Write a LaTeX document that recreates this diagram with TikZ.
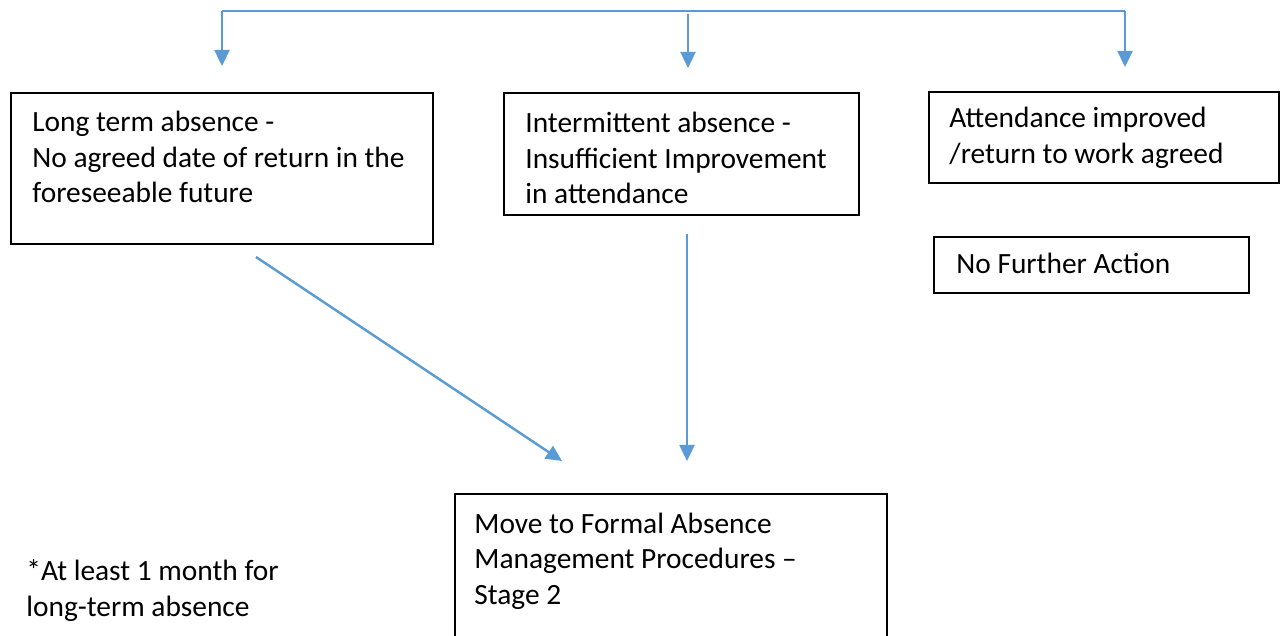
\documentclass[tikz,border=0pt]{standalone}
\usepackage{fontspec}
\setmainfont{Carlito}
\usetikzlibrary{arrows.meta}
\definecolor{flowblue}{HTML}{5B9BD5}
\tikzset{
  stagebox/.style={draw=black, line width=0.8pt, anchor=north west, inner sep=0pt},
  stagetext/.style={anchor=base west, align=left, inner sep=0pt, font=\fontsize{14.7pt}{17.75pt}\selectfont},
  flow/.style={draw=flowblue, line width=1.2pt, -{Triangle[length=8pt,width=7.5pt]}}
}
\begin{document}
\begin{tikzpicture}[x=0.5pt,y=-0.5pt]
\clip (0,0) rectangle (1282,636);
% boxes
\node[stagebox, minimum width=211pt, minimum height=75.5pt] (longterm) at (10,92) {};
\node[stagebox, minimum width=177.5pt, minimum height=61pt] (intermit) at (503,92) {};
\node[stagebox, minimum width=175pt, minimum height=45.5pt] (improved) at (928,91) {};
\node[stagebox, minimum width=157.5pt, minimum height=28pt] (noaction) at (933,236) {};
\node[stagebox, minimum width=216pt, minimum height=93.5pt] (formal) at (454,493) {};
% texts (placed at the baseline of the last line)
\node[stagetext] (longtermT) at (32,203) {Long term absence -\\No agreed date of return in the\\foreseeable future};
\node[stagetext] (intermitT) at (525,204) {Intermittent absence -\\Insufficient Improvement\\in attendance};
\node[stagetext] (improvedT) at (949,163.5) {Attendance improved\\/return to work agreed};
\node[stagetext] (noactionT) at (956,274) {No Further Action};
\node[stagetext] (formalT) at (474,604) {Move to Formal Absence\\Management Procedures --\\Stage 2};
\node[stagetext] (noteT) at (26,616.5) {*At least 1 month for\\long-term absence};
% connectors
\coordinate (topL) at (222,11);
\coordinate (topR) at (1125,11);
\coordinate (topM) at (688,14);
\coordinate (tipL) at (222,66);
\coordinate (tipM) at (688,68);
\coordinate (tipR) at (1125,67);
\draw[flow] (topL)--(tipL);
\draw[flow] (topR)--(tipR);
\draw[flow] (topM)--(tipM);
\draw[draw=flowblue, line width=1.2pt] (topL)--(topR);
\coordinate (diagS) at (256,257);
\coordinate (diagE) at (562,461);
\coordinate (vertS) at (687,234);
\coordinate (vertE) at (687,461);
\draw[flow] (diagS)--(diagE);
\draw[flow] (vertS)--(vertE);
\end{tikzpicture}
\end{document}
